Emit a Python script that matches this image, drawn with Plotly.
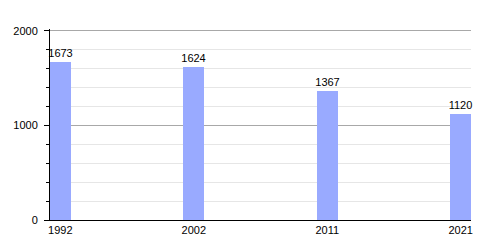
import plotly.graph_objects as go

years = ["1992", "2002", "2011", "2021"]
population = [1673, 1624, 1367, 1120]

bar_w = 0.155
xpos = list(range(len(years)))

fig = go.Figure()
fig.add_trace(go.Bar(
    x=xpos, y=population, width=bar_w, offset=0,
    marker=dict(color="#99aaff", line=dict(width=0)),
    text=[str(v) for v in population], textposition="outside",
    constraintext="none",
    textfont=dict(size=11, color="black", family="Liberation Sans"),
    cliponaxis=False,
))

fig.update_layout(
    width=500, height=250,
    margin=dict(l=50, r=29, t=29, b=30),
    plot_bgcolor="white", paper_bgcolor="white",
    font=dict(family="Liberation Sans", size=11, color="black"),
    showlegend=False, bargap=0,
    xaxis=dict(
        range=[0, len(years) - 1 + bar_w],
        tickvals=[i + bar_w / 2 for i in xpos], ticktext=years,
        showgrid=False, zeroline=False, showline=True, linecolor="black", linewidth=1,
        ticks="", ticklabelstandoff=0,
    ),
    yaxis=dict(
        range=[0, 2021], tickvals=[0, 1000, 2000],
        showgrid=True, gridcolor="#a8a8a8", gridwidth=1,
        zeroline=False, showline=True, linecolor="black", linewidth=1,
        ticks="outside", ticklen=5, tickcolor="black", ticklabelstandoff=4,
        minor=dict(dtick=200, showgrid=True, gridcolor="#e6e6e6", ticks="outside", ticklen=3, tickcolor="black"),
    ),
)

fig.write_html("out.html")
